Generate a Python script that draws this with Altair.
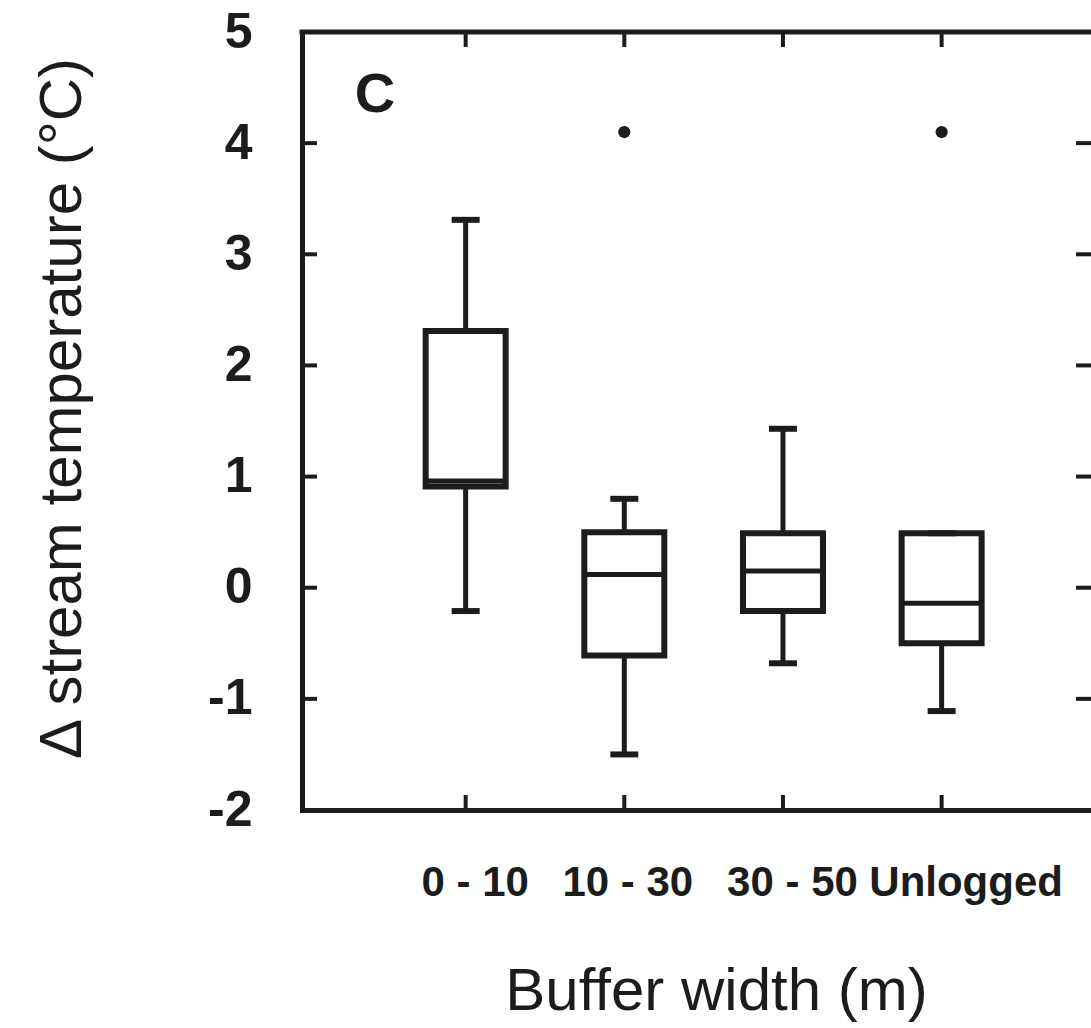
import altair as alt
import pandas as pd

# ---- data ----
categories = ["0 - 10", "10 - 30", "30 - 50", "Unlogged"]
positions = [1, 2, 3, 4]
whisker_low = [-0.21, -1.50, -0.68, -1.11]
q1 = [0.91, -0.61, -0.21, -0.50]
median = [0.96, 0.12, 0.15, -0.14]
q3 = [2.31, 0.50, 0.49, 0.49]
whisker_high = [3.31, 0.80, 1.43, 0.49]
outlier_pos = [2, 4]
outlier_val = [4.1, 4.1]
y_tick_values = [-2, -1, 0, 1, 2, 3, 4, 5]
inner_y_ticks = [-1, 0, 1, 2, 3, 4]
panel_label = ["C"]

# ---- styling ----
INK = "#1c1c1c"
FONT = "Liberation Sans"
W, H = 789, 778
TICK = 15

boxes = pd.DataFrame({
    "pos": positions, "cat": categories, "low": whisker_low, "q1": q1,
    "median": median, "q3": q3, "high": whisker_high,
})
outliers = pd.DataFrame({"pos": outlier_pos, "val": outlier_val})
yt = pd.DataFrame({"v": inner_y_ticks})
xt = pd.DataFrame({"pos": positions})
lab = pd.DataFrame({"t": panel_label})

xs = alt.Scale(domain=[0, 4.91], nice=False, zero=False)
ys = alt.Scale(domain=[-2, 5], nice=False, zero=False)

label_expr = "[" + ",".join("'" + c + "'" for c in categories) + "][datum.value - 1]"

x_axis = alt.Axis(
    orient="bottom", values=positions, labelExpr=label_expr, ticks=False, tickSize=0,
    grid=False, domain=True, domainColor=INK, domainWidth=5, domainCap="square",
    labelFont=FONT, labelFontSize=42, labelFontWeight="bold", labelColor=INK,
    labelPadding=52, labelFlush=False, labelOverlap=False, labelLimit=500,
    labelOffset={
        "condition": [
            {"test": "datum.value == 4", "value": 24},
            {"test": "datum.value == 2", "value": 3},
        ],
        "value": 9,
    },
    title="Buffer width (m)", titleFont=FONT, titleFontSize=60, titleFontWeight="normal",
    titleColor=INK, titleX=414, titleY=199, titleAlign="center", titleBaseline="alphabetic",
)
y_axis = alt.Axis(
    orient="left", values=y_tick_values, ticks=False, tickSize=0, grid=False,
    domain=True, domainColor=INK, domainWidth=5, domainCap="square",
    labelExpr="replace(datum.label, '\u2212', '-')",
    labelFont=FONT, labelFontSize=50, labelFontWeight="bold", labelColor=INK,
    labelPadding=50, labelFlush=False, labelOverlap=False, labelLimit=500,
    title="\u0394 stream temperature (\u00b0C)", titleFont=FONT, titleFontSize=60,
    titleFontWeight="normal", titleColor=INK, titleAngle=270, titleX=-222, titleY=376,
    titleAlign="center", titleBaseline="alphabetic",
)

X = alt.X("pos:Q", scale=xs, axis=x_axis)


def Y(field):
    return alt.Y(field, scale=ys, axis=y_axis)


whisker = alt.Chart(boxes).mark_rule(color=INK, strokeWidth=5).encode(
    x=X, y=Y("low:Q"), y2="high:Q",
)
box = alt.Chart(boxes).mark_bar(size=80, fill="white", stroke=INK, strokeWidth=6).encode(
    x=X, y=Y("q1:Q"), y2="q3:Q",
)
med = alt.Chart(boxes).mark_tick(orient="horizontal", size=80, thickness=5, color=INK, opacity=1).encode(
    x=X, y=Y("median:Q"),
)
cap_lo = alt.Chart(boxes).mark_tick(orient="horizontal", size=28, thickness=6, color=INK, opacity=1).encode(
    x=X, y=Y("low:Q"),
)
cap_hi = alt.Chart(boxes).mark_tick(orient="horizontal", size=28, thickness=6, color=INK, opacity=1).encode(
    x=X, y=Y("high:Q"),
)
out = alt.Chart(outliers).mark_circle(size=150, color=INK, opacity=1).encode(
    x=X, y=Y("val:Q"),
)

# top frame line
top_frame = alt.Chart(lab).mark_rule(color=INK, strokeWidth=5, strokeCap="square").encode(
    x=alt.value(0), x2=alt.value(W), y=alt.value(0),
)
# inward tick marks on all four sides
top_ticks = alt.Chart(xt).mark_rule(color=INK, strokeWidth=4).encode(
    x=X, y=alt.value(0), y2=alt.value(TICK),
)
bottom_ticks = alt.Chart(xt).mark_rule(color=INK, strokeWidth=4).encode(
    x=X, y=alt.value(H), y2=alt.value(H - TICK),
)
left_ticks = alt.Chart(yt).mark_rule(color=INK, strokeWidth=4).encode(
    y=Y("v:Q"), x=alt.value(0), x2=alt.value(TICK),
)
right_ticks = alt.Chart(yt).mark_rule(color=INK, strokeWidth=4).encode(
    y=Y("v:Q"), x=alt.value(W - TICK), x2=alt.value(W),
)
letter = alt.Chart(lab).mark_text(
    font=FONT, fontSize=56, fontWeight="bold", color=INK, align="center", baseline="middle"
).encode(text="t:N", x=alt.value(73), y=alt.value(63))

chart = alt.layer(
    whisker, box, med, cap_lo, cap_hi, out,
    top_frame, top_ticks, bottom_ticks, left_ticks, right_ticks, letter,
).properties(
    width=W, height=H,
    autosize=alt.AutoSizeParams(type="none"),
    padding={"left": 302, "top": 32, "right": 0, "bottom": 218},
    background="white",
).configure_view(stroke=None)

chart.save("out.html", embed_options={"renderer": "svg", "actions": False})
